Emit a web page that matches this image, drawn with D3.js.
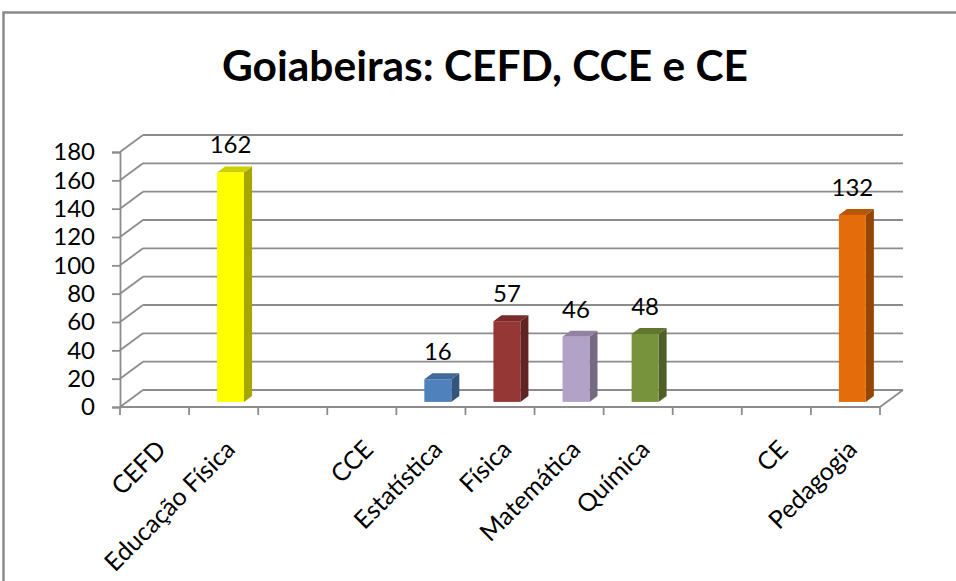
<!DOCTYPE html>
<html>
<head>
<meta charset="utf-8">
<script src="https://cdn.jsdelivr.net/npm/d3@7"></script>
<style>
  body { margin: 0; background: #fff; }
  svg { display: block; font-family: Lato, "Open Sans", sans-serif; }
</style>
</head>
<body>
<svg id="chart" width="956" height="581"></svg>
<script>
// data
var categories = ['CEFD', 'Educação Física', '', 'CCE', 'Estatística', 'Física', 'Matemática', 'Química', '', 'CE', 'Pedagogia'];
var values = [null, 162, null, null, 16, 57, 46, 48, null, null, 132];
var frontColors = [null, '#FFFF00', null, null, '#4F81BD', '#953735', '#B3A2C7', '#77933C', null, null, '#E46C0A'];
var yTicks = [0, 20, 40, 60, 80, 100, 120, 140, 160, 180];
var title = 'Goiabeiras: CEFD, CCE e CE';

var svg = d3.select('#chart');

// plot box (front plane) and 3d depth offset
var plot = {left: 120, right: 880, top: 152, bottom: 407},
    depth = {dx: 23, dy: -17},
    barDepth = {from: 0.3, to: 0.65};

// outer frame
svg.append('rect')
    .attr('x', 3.5).attr('y', 12.5)
    .attr('width', 970).attr('height', 600)
    .attr('fill', 'none')
    .attr('stroke', '#8a8a8a')
    .attr('stroke-width', 2.5);

// title, fitted to the reference width
var titleText = svg.append('text')
    .attr('x', 485).attr('y', 81)
    .attr('text-anchor', 'middle')
    .style('font-weight', 'bold')
    .style('font-size', '44px')
    .attr('fill', '#000')
    .text(title);
var tw = titleText.node().getComputedTextLength();
titleText.style('font-size', (44 * 526 / tw) + 'px');

var x = d3.scaleBand()
    .domain(d3.range(categories.length))
    .range([plot.left, plot.right]);

var y = d3.scaleLinear()
    .domain([0, 180])
    .range([plot.bottom, plot.top]);

var grid = svg.append('g').attr('class', 'grid')
    .attr('stroke', '#8c8c8c')
    .attr('stroke-width', 1.8)
    .attr('fill', 'none');

// back wall gridlines + left wall diagonals
yTicks.forEach(function (t) {
    var yy = y(t);
    grid.append('line')
        .attr('x1', plot.left + depth.dx).attr('y1', yy + depth.dy)
        .attr('x2', plot.right + depth.dx).attr('y2', yy + depth.dy);
    grid.append('line')
        .attr('x1', plot.left).attr('y1', yy)
        .attr('x2', plot.left + depth.dx).attr('y2', yy + depth.dy);
});
// floor right edge
grid.append('line')
    .attr('x1', plot.right).attr('y1', plot.bottom)
    .attr('x2', plot.right + depth.dx).attr('y2', plot.bottom + depth.dy);

// y axis
var yAxis = d3.axisLeft(y).tickValues(yTicks).tickSize(8).tickPadding(17);
var yg = svg.append('g')
    .attr('transform', 'translate(' + plot.left + ',0)')
    .call(yAxis);
yg.select('.domain').attr('stroke', '#8c8c8c').attr('stroke-width', 1.8);
yg.selectAll('.tick line').attr('stroke', '#8c8c8c').attr('stroke-width', 1.8);
yg.selectAll('.tick text')
    .style('font-size', '24px')
    .style('font-family', 'Lato, sans-serif')
    .attr('fill', '#000');

// x axis line + ticks at category boundaries
var xg = svg.append('g').attr('stroke', '#8c8c8c').attr('stroke-width', 1.8);
xg.append('line')
    .attr('x1', plot.left).attr('y1', plot.bottom)
    .attr('x2', plot.right).attr('y2', plot.bottom);
d3.range(categories.length + 1).forEach(function (i) {
    var xx = plot.left + i * x.step();
    xg.append('line')
        .attr('x1', xx).attr('y1', plot.bottom)
        .attr('x2', xx).attr('y2', plot.bottom + 8);
});

// category labels rotated -45
svg.append('g').selectAll('text')
    .data(categories)
    .enter().append('text')
    .attr('text-anchor', 'end')
    .attr('transform', function (d, i) {
        return 'translate(' + (x(i) + x.bandwidth() / 2 + 13) + ',' + 451 + ') rotate(-45)';
    })
    .style('font-size', '25px')
    .attr('fill', '#000')
    .text(function (d) { return d; });

// 3d bars
var barW = x.bandwidth() * 0.39,
    offX = depth.dx * barDepth.from,
    offY = depth.dy * barDepth.from,
    bdx = depth.dx * (barDepth.to - barDepth.from),
    bdy = depth.dy * (barDepth.to - barDepth.from);

var data = categories.map(function (c, i) {
    return {cat: c, i: i, value: values[i], color: frontColors[i]};
}).filter(function (d) { return d.value !== null; });

var bars = svg.append('g').selectAll('g')
    .data(data)
    .enter().append('g');

function geom(d) {
    var x0 = x(d.i) + (x.bandwidth() - barW) / 2 + offX,
        x1 = x0 + barW,
        yt = y(d.value) + offY,
        yb = y(0) + offY;
    return {x0: x0, x1: x1, yt: yt, yb: yb};
}

// side face
bars.append('path')
    .attr('d', function (d) {
        var g = geom(d);
        return 'M' + g.x1 + ',' + g.yt + 'L' + (g.x1 + bdx) + ',' + (g.yt + bdy) +
            'L' + (g.x1 + bdx) + ',' + (g.yb + bdy) + 'L' + g.x1 + ',' + g.yb + 'Z';
    })
    .attr('fill', function (d) { return d3.color(d.color).darker(1.2); });

// top face
bars.append('path')
    .attr('d', function (d) {
        var g = geom(d);
        return 'M' + g.x0 + ',' + g.yt + 'L' + g.x1 + ',' + g.yt +
            'L' + (g.x1 + bdx) + ',' + (g.yt + bdy) + 'L' + (g.x0 + bdx) + ',' + (g.yt + bdy) + 'Z';
    })
    .attr('fill', function (d) { return d3.color(d.color).darker(0.6); });

// front face
bars.append('rect')
    .attr('x', function (d) { return geom(d).x0; })
    .attr('y', function (d) { return geom(d).yt; })
    .attr('width', barW)
    .attr('height', function (d) { var g = geom(d); return g.yb - g.yt; })
    .attr('fill', function (d) { return d.color; });

// value labels
bars.append('text')
    .attr('x', function (d) { var g = geom(d); return (g.x0 + g.x1) / 2; })
    .attr('y', function (d) { return geom(d).yt + bdy - 13; })
    .attr('text-anchor', 'middle')
    .style('font-size', '24px')
    .attr('fill', '#000')
    .text(function (d) { return d.value; });
</script>
</body>
</html>
